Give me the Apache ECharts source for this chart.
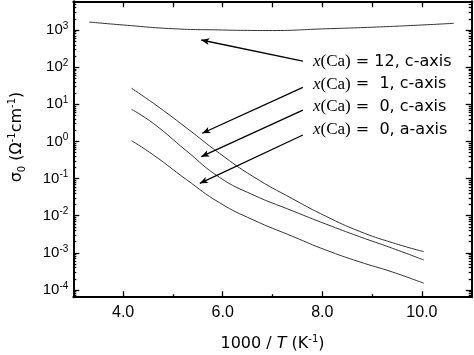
<!DOCTYPE html>
<html><head><meta charset="utf-8">
<script src="https://cdn.jsdelivr.net/npm/echarts@6/dist/echarts.min.js"></script>
<style>html,body{margin:0;padding:0;background:#fff}#c{width:474px;height:355px}</style>
</head><body><div id="c"></div>
<script>
// x = 1000/T (K^-1); sigma0 in (Ohm^-1 cm^-1)
const xCa12 = [3.32, 4.0, 5.0, 6.0, 6.5, 7.0, 8.0, 9.0, 10.0, 10.64];
const sigmaCa12 = [1640, 1365, 1084, 1000, 975, 968, 1070, 1190, 1365, 1515];

const xLow = [4.17, 4.61, 5.27, 5.94, 6.61, 7.41, 8.07, 8.74, 9.41, 10.04];
const sigmaCa1c = [26.9, 10.63, 2.33, 0.473, 0.1136, 0.02817, 0.0097, 0.003826, 0.001875, 0.001073];
const sigmaCa0c = [7.33, 3.037, 0.56, 0.107, 0.0365, 0.01338, 0.005977, 0.002754, 0.001326, 0.000642];
const sigmaCa0a = [1.046, 0.4309, 0.09434, 0.0222, 0.00775, 0.002754, 0.001193, 0.000577, 0.0003048, 0.0001513];

const xTickValues = [4, 6, 8, 10];
const xMinorTickValues = [5, 7, 9];
const xTopTickValues = [4, 5, 6, 7, 8, 9, 10];
const yDecadeExponents = [-4, -3, -2, -1, 0, 1, 2, 3];

const labelValues = ['12, c-axis', ' 1, c-axis', ' 0, c-axis', ' 0, a-axis'];
// arrows: [x start, sigma start] -> [x end, sigma end]
const arrowStartX = [7.61, 7.61, 7.61, 7.61];
const arrowStartSigma = [146, 28.6, 7.0, 1.49];
const arrowEndX = [5.57, 5.59, 5.57, 5.54];
const arrowEndSigma = [538, 1.66, 0.388, 0.0745];

const Y_MIN = -4.194, Y_MAX = 3.773;
const lg = v => Math.log10(v);
const pairs = (xs, ys) => xs.map((x, i) => [x, lg(ys[i])]);

const yMinor = [];
for (let n = -5; n <= 3; n++) for (let k = 2; k <= 9; k++) {
  const v = Math.log10(k) + n;
  if (v > Y_MIN && v < Y_MAX) yMinor.push(v);
}

const chart = echarts.init(document.getElementById('c'), null, {renderer: 'canvas'});
const lineStyleCurve = {color: '#333', width: 1};
const frame = {show: true, onZero: false, lineStyle: {color: '#000', width: 2}};
const noLine = {show: false, onZero: false};

function xAx(pos, ticks, len, showLine, labels) {
  return {
    type: 'value', min: 3, max: 11, position: pos,
    axisLine: showLine ? frame : noLine,
    axisTick: {show: true, inside: true, length: len, customValues: ticks, lineStyle: {color: '#000', width: 1.3}},
    axisLabel: labels ? {customValues: xTickValues, formatter: v => v.toFixed(1), fontSize: 16, color: '#000', fontFamily: 'Liberation Sans', margin: 7} : {show: false},
    splitLine: {show: false}
  };
}
function yAx(pos, ticks, len, showLine, labels) {
  return {
    type: 'value', min: Y_MIN, max: Y_MAX, position: pos,
    axisLine: showLine ? frame : noLine,
    axisTick: {show: true, inside: true, length: len, customValues: ticks, lineStyle: {color: '#000', width: 1.3}},
    axisLabel: labels ? {
      customValues: yDecadeExponents,
      formatter: v => '{b|10}{s|' + Math.round(v) + '}',
      margin: 5,
      rich: {
        b: {fontSize: 15, fontFamily: 'Liberation Sans', color: '#000', lineHeight: 18},
        s: {fontSize: 10, fontFamily: 'Liberation Sans', color: '#000', verticalAlign: 'top', lineHeight: 18}
      }
    } : {show: false},
    splitLine: {show: false}
  };
}

const xAxes = [
  xAx('bottom', xTickValues, 6, true, true),
  xAx('bottom', xMinorTickValues, 3, false, false),
  xAx('top', xTopTickValues, 6, true, false)
];
xAxes[0].name = '{n|1000 / }{i|T}{n| (K}{s|-1}{n|)}';
xAxes[0].nameLocation = 'middle';
xAxes[0].nameGap = 37;
xAxes[0].nameTextStyle = {
  rich: {
    n: {fontSize: 16, fontFamily: 'DejaVu Sans', color: '#000', lineHeight: 20},
    i: {fontSize: 16, fontFamily: 'DejaVu Sans', fontStyle: 'italic', color: '#000', lineHeight: 20},
    s: {fontSize: 10, fontFamily: 'DejaVu Sans', color: '#000', verticalAlign: 'top', lineHeight: 20}
  }
};

const yAxes = [
  yAx('left', yDecadeExponents, 6, true, true),
  yAx('left', yMinor, 3, false, false),
  yAx('right', yDecadeExponents, 6, true, false),
  yAx('right', yMinor, 3, false, false)
];

const arrowData = arrowStartX.map((x, i) => [
  {coord: [x, lg(arrowStartSigma[i])], symbol: 'none'},
  {coord: [arrowEndX[i], lg(arrowEndSigma[i])], symbol: 'arrow', symbolSize: [5, 8]}
]);

const labelY = [61.7, 84.2, 106.8, 129.8];
const graphics = labelValues.map((t, i) => ({
  type: 'text', x: 313, y: labelY[i], silent: true,
  style: {
    text: '{x|x}{c|(Ca)}{n| = ' + t + '}',
    verticalAlign: 'middle', align: 'left',
    rich: {
      x: {fontSize: 17, fontFamily: 'Liberation Serif', fontStyle: 'italic', fill: '#000'},
      c: {fontSize: 17, fontFamily: 'Liberation Serif', fill: '#000'},
      n: {fontSize: 16, fontFamily: 'DejaVu Sans', fill: '#000'}
    }
  }
}));
graphics.push({
  type: 'text', x: 17, y: 137, rotation: Math.PI / 2, silent: true,
  style: {
    text: '{n|σ}{b|0}{n| (Ω}{s|-1}{n|cm}{s|-1}{n|)}',
    align: 'center', verticalAlign: 'middle',
    rich: {
      n: {fontSize: 16, fontFamily: 'DejaVu Sans', fill: '#000', lineHeight: 20},
      b: {fontSize: 10, fontFamily: 'DejaVu Sans', fill: '#000', verticalAlign: 'bottom', lineHeight: 20},
      s: {fontSize: 10, fontFamily: 'DejaVu Sans', fill: '#000', verticalAlign: 'top', lineHeight: 20}
    }
  }
});

const curve = (name, xs, ys) => ({
  type: 'line', name, data: pairs(xs, ys), smooth: 0.5,
  showSymbol: false, lineStyle: lineStyleCurve, silent: true
});

const s0 = curve('x(Ca)=12, c-axis', xCa12, sigmaCa12);
s0.markLine = {silent: true, symbol: ['none', 'arrow'], label: {show: false},
  lineStyle: {color: '#000', width: 1.3, type: 'solid'}, emphasis: {disabled: true}, data: arrowData};

chart.setOption({
  animation: false,
  backgroundColor: '#fff',
  grid: {left: 73.3, right: 2.3, top: 1.3, bottom: 57.8, containLabel: false, outerBoundsMode: 'none'},
  xAxis: xAxes,
  yAxis: yAxes,
  graphic: graphics,
  series: [
    s0,
    curve('x(Ca)=1, c-axis', xLow, sigmaCa1c),
    curve('x(Ca)=0, c-axis', xLow, sigmaCa0c),
    curve('x(Ca)=0, a-axis', xLow, sigmaCa0a)
  ]
});
</script>
</body></html>
